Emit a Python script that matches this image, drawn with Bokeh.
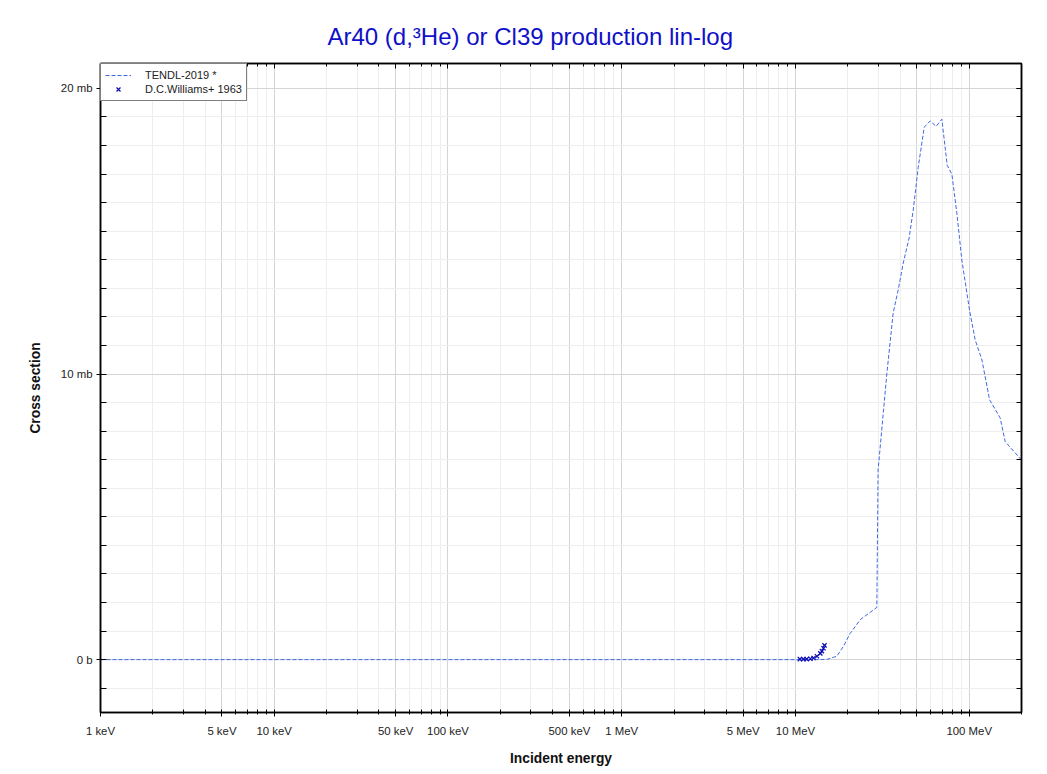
import numpy as np
from bokeh.plotting import figure
from bokeh.models import (FixedTicker, LinearAxis, LogAxis, Range1d, Legend, LegendItem, Title)
from bokeh.embed import file_html
from bokeh.resources import INLINE

# ---- data ----
tendl_energy_mev = [0.001, 10.0, 13.0, 15.2, 17.3, 18.9, 20.6, 23.6, 29.4, 29.9, 33.6, 36.5,
                    39.0, 41.7, 45.1, 47.6, 50.9, 55.1, 59.6, 64.5, 69.6, 74.7, 79.5, 84.9,
                    90.7, 100.4, 108.3, 118.4, 131.0, 150.8, 161.2, 200.0]
tendl_xs_mb = [0.0, 0.0, 0.0, 0.01, 0.12, 0.47, 0.91, 1.40, 1.83, 6.64, 10.03, 12.13,
               12.94, 13.88, 14.76, 15.73, 17.24, 18.64, 18.86, 18.67, 18.92, 17.31, 16.99, 15.63,
               13.99, 12.24, 11.19, 10.49, 9.10, 8.46, 7.63, 6.99]

williams_energy_mev = [10.6, 11.1, 11.6, 12.2, 12.7, 13.3, 13.9, 14.2, 14.5, 14.7]
williams_xs_mb = [0.02, 0.02, 0.02, 0.03, 0.06, 0.12, 0.22, 0.30, 0.40, 0.50]

x_major_ticks = [1e3, 5e3, 1e4, 5e4, 1e5, 5e5, 1e6, 5e6, 1e7, 5e7, 1e8]
x_major_labels = ["1 keV", "5 keV", "10 keV", "50 keV", "100 keV", "500 keV", "1 MeV",
                  "5 MeV", "10 MeV", "", "100 MeV"]
y_major_ticks = [0, 10, 20]
y_major_labels = ["0 b", "10 mb", "20 mb"]

# ---- derived ----
tendl_x = np.array(tendl_energy_mev) * 1e6
will_x = np.array(williams_energy_mev) * 1e6

x_minor = []
for d in range(3, 9):
    for m in range(2, 10):
        v = m * 10.0 ** d
        if v <= 2e8 and v not in x_major_ticks:
            x_minor.append(v)
y_minor = [float(v) for v in range(-1, 21)]

FONT = "Liberation Sans"

p = figure(width=1038, height=768, x_axis_type="log", output_backend="svg",
           toolbar_location=None, x_range=Range1d(1e3, 2e8),
           y_range=Range1d(-1.85, 20.87),
           min_border_left=100, min_border_right=17, min_border_top=63, min_border_bottom=55)

p.title = Title(text="Ar40 (d,\u00b3He) or Cl39 production lin-log", align="left", offset=227,
                text_font=FONT, text_font_size="24px", text_font_style="normal",
                text_color="#1010c8", standoff=28)

p.outline_line_color = "black"
p.outline_line_width = 1.5

xt = FixedTicker(ticks=x_major_ticks, minor_ticks=x_minor)
yt = FixedTicker(ticks=y_major_ticks, minor_ticks=y_minor)

xa = p.xaxis[0]
xa.ticker = xt
xa.major_label_overrides = {float(k): v for k, v in zip(x_major_ticks, x_major_labels)}
xa.axis_label = "Incident energy"

ya = p.yaxis[0]
ya.ticker = yt
ya.major_label_overrides = {float(k): v for k, v in zip(y_major_ticks, y_major_labels)}
ya.axis_label = "Cross section"

for ax in (xa, ya):
    ax.axis_line_color = "black"
    ax.axis_line_width = 1.5
    ax.major_tick_line_color = "black"
    ax.minor_tick_line_color = "black"
    ax.major_tick_in = 3
    ax.major_tick_out = 4
    ax.minor_tick_in = 3
    ax.minor_tick_out = 2
    ax.major_label_text_font = FONT
    ax.major_label_text_font_size = "11.4px"
    ax.major_label_text_color = "#222222"
    ax.axis_label_text_font = FONT
    ax.axis_label_text_font_size = "13.8px"
    ax.axis_label_text_font_style = "bold"
    ax.axis_label_text_color = "#111111"
xa.major_label_standoff = 8
xa.axis_label_standoff = 11
ya.major_label_standoff = 4
ya.axis_label_standoff = 15
ya.minor_tick_out = 0
ya.minor_tick_in = 6

empty_y = {float(v): "" for v in y_major_ticks}
empty_x = {float(v): "" for v in x_major_ticks}
ra = LinearAxis(ticker=yt, major_label_overrides=empty_y, major_tick_out=0, major_tick_in=5,
                minor_tick_out=0, minor_tick_in=5, axis_line_color="black", axis_line_width=1.5,
                major_label_standoff=0, major_label_text_font_size="2px")
p.add_layout(ra, "right")
ta = LogAxis(ticker=xt, major_label_overrides=empty_x, major_tick_out=0, major_tick_in=5,
             minor_tick_out=0, minor_tick_in=3, axis_line_color="black", axis_line_width=1.5,
             major_label_standoff=0, major_label_text_font_size="2px")
p.add_layout(ta, "above")

p.xgrid.ticker = xt
p.ygrid.ticker = yt
for g in (p.xgrid[0], p.ygrid[0]):
    g.grid_line_color = "#d4d4d4"
    g.grid_line_width = 1
    g.minor_grid_line_color = "#eeeeee"
    g.minor_grid_line_width = 1

r1 = p.line(tendl_x, tendl_xs_mb, line_color="#4169e1", line_width=1, line_dash="4 2")
r2 = p.scatter(will_x, williams_xs_mb, marker="x", size=6, line_color="#0a0ab4", line_width=1.2)

legend = Legend(items=[LegendItem(label="TENDL-2019 *", renderers=[r1]),
                       LegendItem(label="D.C.Williams+ 1963", renderers=[r2])],
                location="top_left", margin=0, padding=4, spacing=0,
                label_text_font=FONT, label_text_font_size="11px", label_text_color="#222222",
                label_height=14, glyph_height=14, glyph_width=26, label_standoff=14,
                border_line_color="black", border_line_width=1, background_fill_alpha=1)
p.add_layout(legend)

open("out.html", "w").write(file_html(p, INLINE))
